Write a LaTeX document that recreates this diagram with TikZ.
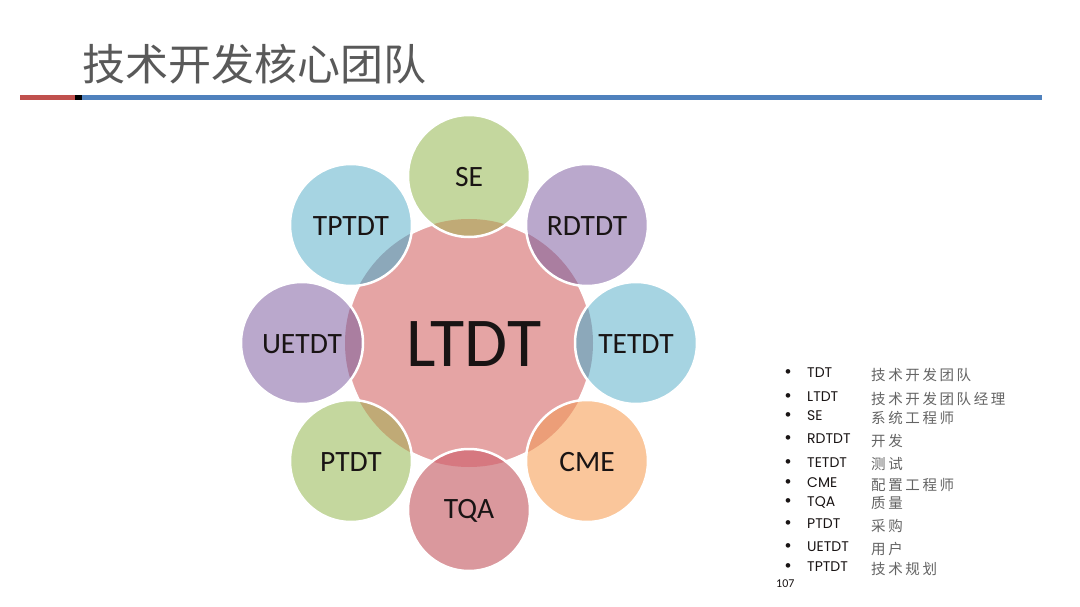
\documentclass[tikz,border=0pt]{standalone}
\usepackage{fontspec}
\newfontfamily\carl{Carlito}
\newfontfamily\pop{Poppins}
\newfontfamily\cjk{Noto Sans CJK SC}
\newfontfamily\cjkls[LetterSpace=18]{Noto Sans CJK SC}
\definecolor{ctr}{RGB}{229,164,164}
\definecolor{grn}{RGB}{196,215,158}
\definecolor{grnov}{RGB}{192,170,118}
\definecolor{pur}{RGB}{186,168,204}
\definecolor{purov}{RGB}{170,126,160}
\definecolor{blu}{RGB}{166,212,226}
\definecolor{bluov}{RGB}{140,168,186}
\definecolor{org}{RGB}{250,198,155}
\definecolor{orgov}{RGB}{236,158,120}
\definecolor{red}{RGB}{218,152,157}
\definecolor{redov}{RGB}{214,120,128}
\definecolor{titlegray}{RGB}{89,89,89}
\definecolor{lgray}{RGB}{100,100,100}
\definecolor{barred}{RGB}{192,80,77}
\definecolor{barblue}{RGB}{79,129,189}
\definecolor{txt}{RGB}{25,20,20}
\tikzset{
  lab/.style={font=\carl\fontsize{29.5}{32}\selectfont, text=txt, inner sep=0pt},
  bul/.style={font=\carl\fontsize{13}{14}\selectfont, text=txt, inner sep=0pt},
  abbr/.style={font=\pop\fontsize{14}{16}\selectfont, text=txt, anchor=west, inner sep=0pt},
  cn/.style={font=\cjkls\fontsize{14.5}{16}\selectfont, text=lgray, anchor=west, inner sep=0pt},
}
\begin{document}
\begin{tikzpicture}[x=1pt,y=-1pt]
\useasboundingbox (0,0) rectangle (1080,607);
\fill[white] (0,0) rectangle (1080,607);
% title
\node[font=\cjk\fontsize{43}{46}\selectfont, text=titlegray, anchor=west, inner sep=0pt] (title) at (82,64) {技术开发核心团队};
\coordinate (b0) at (20,97.5);
\coordinate (b1) at (75,97.5);
\coordinate (b2) at (82,97.5);
\coordinate (b3) at (1042,97.5);
\draw[line width=5pt, barred] (b0) -- (b1);
\draw[line width=5pt, black] (b1) -- (b2);
\draw[line width=5pt, barblue] (b2) -- (b3);
% centre circle
\coordinate (cc) at (469,343);
\fill[ctr] (cc) circle (124pt);
\draw[white, line width=2.5pt] (cc) circle (124pt);
% satellites
\foreach \px/\py/\fc/\oc/\nm/\txt in {
  469/176/grn/grnov/se/SE,
  587/225/pur/purov/rd/RDTDT,
  636/343/blu/bluov/te/TETDT,
  587/461/org/orgov/cm/CME,
  469/510/red/redov/tq/TQA,
  351/461/grn/grnov/pt/PTDT,
  302/343/pur/purov/ue/UETDT,
  351/225/blu/bluov/tp/TPTDT}{
  \fill[\fc] (\px,\py) circle (61pt);
  \begin{scope}
    \clip (\px,\py) circle (61pt);
    \fill[\oc] (cc) circle (124pt);
  \end{scope}
  \draw[white, line width=2.5pt] (\px,\py) circle (61pt);
  \node[lab] (\nm) at (\px,\py+1) {\txt};
}
\node[font=\carl\fontsize{70}{74}\selectfont, text=txt, inner sep=0pt] (ltdt) at (474,344) {LTDT};
% legend
\foreach \yy/\ab/\cnt [count=\i] in {
  373/TDT/技术开发团队,
  397/LTDT/技术开发团队经理,
  416/SE/系统工程师,
  439/RDTDT/开发,
  463/TETDT/测试,
  483/CME/配置工程师,
  502/TQA/质量,
  524/PTDT/采购,
  547/UETDT/用户,
  567/TPTDT/技术规划}{
  \node[bul] (lb\i) at (788,\yy) {\textbullet};
  \node[abbr] (la\i) at (807,\yy) {\ab};
  \node[cn] (lc\i) at (871,\yy+1.5) {\cnt};
}
\node[font=\carl\fontsize{12}{13}\selectfont, text=txt, anchor=west, inner sep=0pt] (pg) at (776,584) {107};
\end{tikzpicture}
\end{document}
